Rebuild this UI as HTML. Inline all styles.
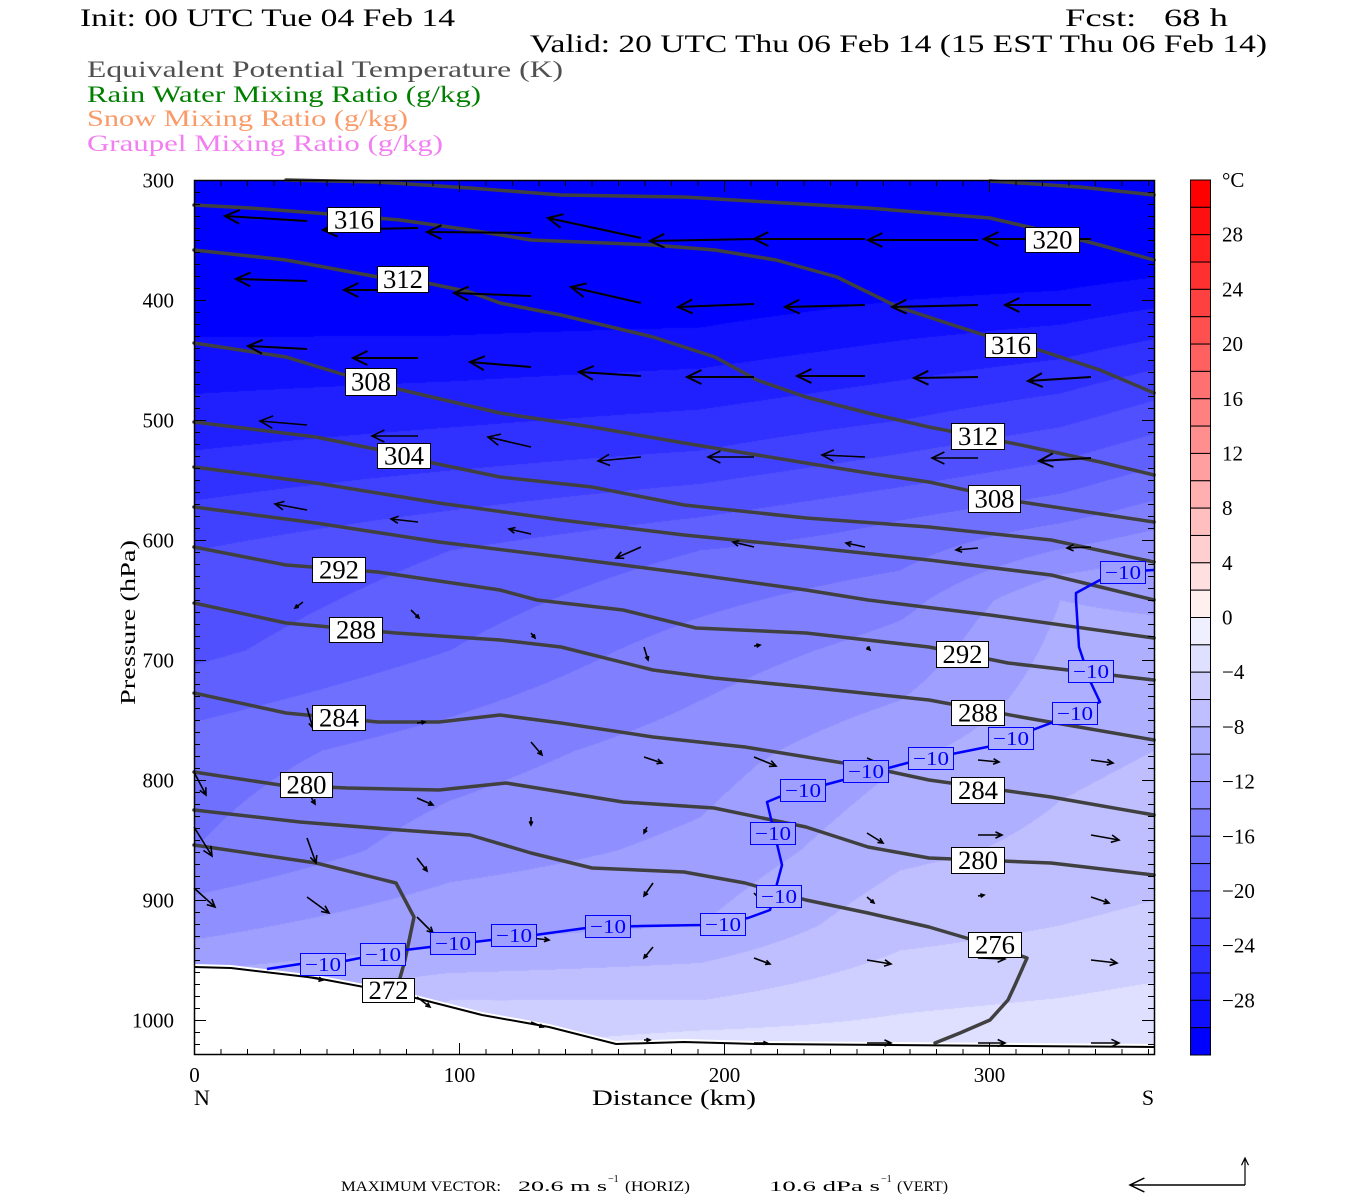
<!DOCTYPE html>
<html><head><meta charset="utf-8">
<style>
html,body{margin:0;padding:0;background:#fff;}
#wrap{position:relative;width:1350px;height:1200px;overflow:hidden;}
#fld{position:absolute;left:194px;top:180px;}
#svg{position:absolute;left:0;top:0;}
text{font-family:"Liberation Serif","DejaVu Serif",serif;}
.s{font-family:"Liberation Serif",serif;}
</style></head>
<body><div id="wrap">
<canvas id="fld" width="960" height="875"></canvas>
<svg id="svg" width="1350" height="1200" xmlns="http://www.w3.org/2000/svg">
<g id="g"></g>
<g id="txt" font-size="23">
<text x="80" y="26" font-size="25" textLength="375" lengthAdjust="spacingAndGlyphs">Init: 00 UTC Tue 04 Feb 14</text>
<text x="1065" y="26" font-size="25" textLength="163" lengthAdjust="spacingAndGlyphs" xml:space="preserve">Fcst:   68 h</text>
<text x="530" y="52" font-size="25" textLength="737" lengthAdjust="spacingAndGlyphs">Valid: 20 UTC Thu 06 Feb 14 (15 EST Thu 06 Feb 14)</text>
<text x="87" y="77" fill="#505050" textLength="476" lengthAdjust="spacingAndGlyphs">Equivalent Potential Temperature (K)</text>
<text x="87" y="102" fill="#007f00" textLength="394" lengthAdjust="spacingAndGlyphs">Rain Water Mixing Ratio (g/kg)</text>
<text x="87" y="126" fill="#fa9a68" textLength="321" lengthAdjust="spacingAndGlyphs">Snow Mixing Ratio (g/kg)</text>
<text x="87" y="151" fill="#f27ef2" textLength="356" lengthAdjust="spacingAndGlyphs">Graupel Mixing Ratio (g/kg)</text>
<text x="592" y="1105" font-size="22" textLength="164" lengthAdjust="spacingAndGlyphs">Distance (km)</text>
<text x="202" y="1105" font-size="22" text-anchor="middle">N</text>
<text x="1148" y="1105" font-size="22" text-anchor="middle">S</text>
<text transform="translate(135,705) rotate(-90)" font-size="21" textLength="165" lengthAdjust="spacingAndGlyphs">Pressure (hPa)</text>
<text class="s" x="341" y="1191" font-size="15" textLength="160" lengthAdjust="spacingAndGlyphs">MAXIMUM VECTOR:</text>
<text class="s" x="518" y="1191" font-size="15" textLength="89" lengthAdjust="spacingAndGlyphs">20.6 m s</text>
<text class="s" x="608" y="1182" font-size="10">−1</text>
<text class="s" x="625" y="1191" font-size="15" textLength="65" lengthAdjust="spacingAndGlyphs">(HORIZ)</text>
<text class="s" x="769" y="1191" font-size="15" textLength="111" lengthAdjust="spacingAndGlyphs">10.6 dPa s</text>
<text class="s" x="881" y="1182" font-size="10">−1</text>
<text class="s" x="897" y="1191" font-size="15" textLength="51" lengthAdjust="spacingAndGlyphs">(VERT)</text>
</g>
</svg>
</div>
<script>
var NS="http://www.w3.org/2000/svg";
var G=document.getElementById('g');
function el(n,a,p){var e=document.createElementNS(NS,n);for(var k in a)e.setAttribute(k,a[k]);(p||G).appendChild(e);return e;}
var cols=[
[194,[[180,-36],[337,-30],[450,-26],[550,-22],[650,-20.5],[750,-17],[850,-16],[950,-11.5],[970,-10],[1055,-8]]],
[450,[[180,-36],[335,-30],[450,-25],[550,-20],[650,-18],[750,-15],[850,-13],[945,-10],[1000,-6],[1055,-4]]],
[700,[[180,-36],[327,-30],[450,-24],[550,-18],[650,-15],[750,-13],[850,-11.5],[925,-10],[1000,-6],[1045,-3],[1055,-2.5]]],
[900,[[180,-36],[300,-30],[420,-24],[520,-18],[620,-14],[700,-12],[765,-10],[850,-8.5],[950,-6],[1045,-3],[1055,-3]]],
[1060,[[180,-36],[290,-30],[410,-23],[510,-17],[600,-10],[700,-9],[850,-7.5],[950,-5.5],[1045,-2.5],[1055,-2.5]]],
[1154,[[180,-36],[277,-30],[400,-22],[500,-16],[580,-10.5],[650,-9.5],[750,-8],[850,-7],[950,-5],[1045,-2],[1055,-2]]]];
function colT(p,y){if(y<=p[0][0])return p[0][1];for(var i=1;i<p.length;i++){if(y<=p[i][0]){var t=(y-p[i-1][0])/(p[i][0]-p[i-1][0]);return p[i-1][1]+t*(p[i][1]-p[i-1][1]);}}return p[p.length-1][1];}
function T(x,y){if(x<=cols[0][0])return colT(cols[0][1],y);for(var i=1;i<cols.length;i++){if(x<=cols[i][0]){var t=(x-cols[i-1][0])/(cols[i][0]-cols[i-1][0]);return colT(cols[i-1][1],y)*(1-t)+colT(cols[i][1],y)*t;}}return colT(cols[cols.length-1][1],y);}
function lev(t){var k=Math.ceil(-t/2);if(k<1)k=1;if(k>16)k=16;return Math.round(255*(16-k)/16);}
function fcol(x,y){var v=lev(T(x,y));return 'rgb('+v+','+v+',255)';}
var c=document.getElementById('fld'),ctx=c.getContext('2d'),im=ctx.createImageData(960,875),d=im.data;
for(var yy=0;yy<875;yy++)for(var xx=0;xx<960;xx++){var v=lev(T(xx+194,yy+180));var o=(yy*960+xx)*4;d[o]=v;d[o+1]=v;d[o+2]=255;d[o+3]=255;}
ctx.putImageData(im,0,0);
function pts(a){return a.map(function(p){return p[0]+','+p[1]}).join(' ');}
var ter=[[194,967],[231,968],[316,978],[396,993],[482,1015],[549,1027],[616,1044],[684,1042],[757,1044],[1154,1047]];
el('polygon',{points:pts(ter.map(function(p){return [p[0],p[1]-3]}).concat([[1154,1056],[194,1056]])),fill:'#fff'});
el('polyline',{points:pts(ter),fill:'none',stroke:'#000','stroke-width':2});
var C=[
[[990,181],[1080,187],[1154,195]],
[[286,180],[378,182],[470,188],[561,195],[684,197],[868,208],[990,218],[1050,232],[1100,245],[1154,260]],
[[194,205],[250,208],[316,213],[400,220],[470,230],[531,240],[653,245],[715,250],[776,260],[837,277],[898,307],[959,327],[1000,340],[1039,350],[1100,370],[1154,393]],
[[194,250],[286,260],[378,277],[427,283],[470,292],[500,303],[561,315],[653,337],[715,357],[757,380],[806,397],[868,413],[929,427],[1021,445],[1100,462],[1154,475]],
[[194,343],[286,357],[345,375],[402,390],[500,413],[592,427],[684,443],[806,463],[868,473],[929,482],[1021,502],[1154,522]],
[[194,422],[316,437],[380,450],[433,463],[500,477],[592,487],[684,505],[806,518],[929,527],[1051,540],[1154,562]],
[[194,467],[316,483],[439,503],[561,520],[684,535],[806,547],[929,560],[1051,575],[1154,600]],
[[194,507],[316,523],[439,542],[561,557],[684,573],[806,590],[868,600],[990,615],[1154,638]],
[[194,547],[286,565],[378,572],[500,590],[537,600],[623,610],[696,628],[806,633],[929,647],[1008,663],[1154,680]],
[[194,603],[286,623],[396,633],[500,640],[561,647],[653,670],[714,678],[806,687],[929,700],[1021,717],[1154,740]],
[[194,693],[286,713],[378,722],[439,722],[500,715],[561,723],[653,737],[745,747],[868,767],[929,780],[1051,797],[1154,815]],
[[194,772],[280,785],[347,788],[439,790],[506,783],[623,802],[714,808],[806,827],[868,847],[929,858],[1051,863],[1154,875]],
[[194,810],[300,822],[400,830],[470,835],[531,853],[592,868],[684,872],[745,883],[806,900],[868,913],[929,927],[990,945],[1027,958],[1015,985],[1008,1000],[990,1020],[960,1033],[935,1043]],
[[194,845],[316,863],[396,883],[414,917],[405,960],[400,978]]];
C.forEach(function(a){el('polyline',{points:pts(a),fill:'none',stroke:'#404040','stroke-width':3.5,'stroke-linejoin':'round','stroke-linecap':'round'});});
var M=[[267,969],[300,964],[345,961],[360,958],[405,950],[430,947],[474,942],[491,940],[535,935],[586,928],[641,926],[702,925],[748,918],[770,910],[782,865],[767,802],[779,797],[843,780],[907,763],[987,747],[1051,723],[1100,702],[1091,683],[1079,647],[1076,600],[1076,593],[1100,580],[1120,572],[1154,570]];
el('polyline',{points:pts(M),fill:'none',stroke:'#0000ff','stroke-width':2.5,'stroke-linejoin':'round'});
var A=[
[307,221,225,216],[418,228,323,230],[531,233,427,232],[641,238,548,218],[754,239,650,241],[865,239,754,239],[978,240,868,240],[1091,239,984,239],
[307,281,236,279],[418,290,344,290],[531,296,454,293],[641,303,571,287],[754,304,678,307],[865,305,785,307],[978,305,892,307],[1091,305,1005,305],
[307,349,248,346],[418,358,353,358],[531,367,470,362],[641,376,579,372],[754,377,687,377],[865,376,797,376],[978,377,914,378],[1091,377,1028,381],
[307,425,260,421],[418,436,372,436],[531,447,488,437],[641,457,598,461],[754,457,708,457],[865,457,822,455],[978,458,932,458],[1091,458,1039,461],
[307,510,275,504],[418,522,391,519],[531,534,509,529],[641,547,616,558],[754,547,733,542],[865,547,846,543],[978,548,956,550],[1091,547,1067,548],
[303,602,295,608],[411,610,419,618],[531,633,535,638],[644,647,648,660],[754,646,760,645],[867,647,870,650],
[307,708,313,728],[417,723,425,722],[531,742,542,755],[644,757,662,763],[754,757,776,766],[867,758,883,765],[978,760,999,762],[1091,760,1113,763],
[194,772,206,795],[307,790,315,804],[417,798,433,805],[531,817,531,825],[647,827,644,833],[867,833,883,843],[978,835,1002,835],[1091,835,1119,840],
[194,827,212,856],[307,838,316,863],[417,858,427,871],[653,883,644,896],[754,893,767,907],[867,897,874,903],[978,896,984,895],[1091,897,1109,903],
[194,888,215,907],[307,897,329,913],[417,917,433,933],[531,938,549,940],[653,947,644,958],[754,958,770,964],[867,960,891,964],[978,958,1005,959],[1091,960,1117,963],
[307,977,323,980],[417,997,430,1007],[531,1022,543,1027],[644,1040,650,1040],[754,1043,767,1043],[867,1043,891,1043],[978,1043,1005,1043],[1091,1043,1119,1043]];
function arrow(x1,y1,x2,y2,w,p){var dx=x2-x1,dy=y2-y1,L=Math.sqrt(dx*dx+dy*dy);if(L<0.5)return;var h=Math.max(4,Math.min(16,L*0.3));var ux=dx/L,uy=dy/L,a=0.45;
var bx1=x2-h*(ux*Math.cos(a)-uy*Math.sin(a)),by1=y2-h*(uy*Math.cos(a)+ux*Math.sin(a));
var bx2=x2-h*(ux*Math.cos(a)+uy*Math.sin(a)),by2=y2-h*(uy*Math.cos(a)-ux*Math.sin(a));
el('path',{d:'M'+x1+' '+y1+'L'+x2+' '+y2+'M'+bx1.toFixed(1)+' '+by1.toFixed(1)+'L'+x2+' '+y2+'L'+bx2.toFixed(1)+' '+by2.toFixed(1),fill:'none',stroke:'#000','stroke-width':w},p);}
A.forEach(function(a){var L=Math.hypot(a[2]-a[0],a[3]-a[1]);arrow(a[0],a[1],a[2],a[3],L>50?2:1.6);});
arrow(1245,1185,1130,1185,1.5);arrow(1245,1185,1245,1158,1.2);
var LB=[['316',327,207,53,25],['316',985,333,51,24],['320',1025,227,54,25],['312',377,266,51,26],['312',951,423,53,26],['308',345,368,51,27],['308',968,485,52,27],['304',377,443,53,25],['292',312,557,53,25],['292',936,641,52,26],['288',329,617,53,25],['288',951,700,53,25],['284',312,705,53,25],['284',951,777,53,26],['280',280,772,52,25],['280',951,847,53,26],['276',968,932,53,25],['272',362,978,52,24]];
LB.forEach(function(b){el('rect',{x:b[1]+0.5,y:b[2]+0.5,width:b[3],height:b[4],fill:'#fff',stroke:'#000','stroke-width':1});
var t=el('text',{x:b[1]+b[3]/2+0.5,y:b[2]+b[4]/2+9,'text-anchor':'middle','font-size':26,textLength:40,lengthAdjust:'spacingAndGlyphs'});t.textContent=b[0];});
var BL=[[300,953],[360,943],[430,932],[491,924],[585,915],[700,913],[756,885],[750,822],[780,779],[843,760],[908,747],[988,727],[1052,702],[1068,660],[1100,561]];
BL.forEach(function(b){el('rect',{x:b[0]+0.5,y:b[1]+0.5,width:45,height:22,fill:fcol(b[0]+22,b[1]+11),stroke:'#0000ff','stroke-width':1});
var t=el('text',{x:b[0]+23,y:b[1]+18,'text-anchor':'middle','font-size':20,fill:'#0000ff',textLength:36,lengthAdjust:'spacingAndGlyphs'});t.textContent='−10';});
el('rect',{x:194.5,y:180.5,width:960,height:874,fill:'none',stroke:'#000','stroke-width':1.5});
for(var p=300;p<=1020;p+=10){var y=180+(p-300)*1.2+0.5;var L=(p%100==0)?12:6;
el('line',{x1:194,y1:y,x2:194+L,y2:y,stroke:'#000','stroke-width':1});el('line',{x1:1154,y1:y,x2:1154-L,y2:y,stroke:'#000','stroke-width':1});
if(p%100==0&&p<=1000){var t=el('text',{x:174,y:y+7,'text-anchor':'end','font-size':21});t.textContent=p;}}
for(var k=0;k<=360;k+=10){var x=194+k*2.65+0.5;var L=(k%100==0)?12:6;
el('line',{x1:x,y1:1055,x2:x,y2:1055-L,stroke:'#000','stroke-width':1});el('line',{x1:x,y1:180,x2:x,y2:180+L,stroke:'#000','stroke-width':1});
if(k%100==0){var t=el('text',{x:x,y:1082,'text-anchor':'middle','font-size':21});t.textContent=k;}}
var bh=875/32;
for(var i=0;i<32;i++){var f;if(i<16){var v=Math.round(255*i/16);f='rgb(255,'+v+','+v+')';}else{var k2=i-15;var v=Math.round(255*(16-k2)/16);f='rgb('+v+','+v+',255)';}
el('rect',{x:1190.5,y:(180+i*bh).toFixed(2),width:20,height:bh.toFixed(2),fill:f,stroke:'#000','stroke-width':1});}
var t0=el('text',{x:1222,y:187,'font-size':21});t0.textContent='°C';
for(var v=28;v>=-28;v-=4){var b=(30-v)/2+1;var y=180+b*bh;var t=el('text',{x:1222,y:y+7,'font-size':21});t.textContent=(v<0?'−':'')+Math.abs(v);}
</script>
</body></html>
